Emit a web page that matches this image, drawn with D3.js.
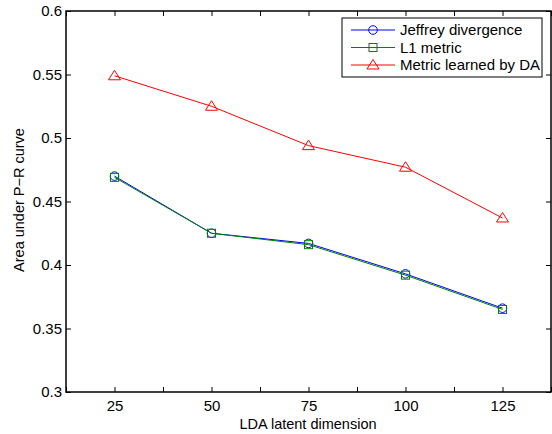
<!DOCTYPE html>
<html>
<head>
<meta charset="utf-8">
<script src="https://cdn.jsdelivr.net/npm/d3@7"></script>
<style>
  body { margin: 0; background: #fff; }
  text { font-family: "Liberation Sans", Arial, sans-serif; }
</style>
</head>
<body>
<svg id="chart" width="552" height="434"></svg>
<script>
// data
const dims = [25, 50, 75, 100, 125];
const jeffrey = [0.470, 0.425, 0.417, 0.393, 0.366];
const l1 = [0.469, 0.425, 0.416, 0.392, 0.365];
const learned = [0.549, 0.525, 0.494, 0.477, 0.437];
const xTicks = [12.5, 25, 37.5, 50, 62.5, 75, 87.5, 100, 112.5, 125, 137.5];
const yTicks = [0.3, 0.35, 0.4, 0.45, 0.5, 0.55, 0.6];

const series = [
  {name: "Jeffrey divergence", values: jeffrey, color: "#0000ff", marker: "circle"},
  {name: "L1 metric", values: l1, color: "#008000", marker: "square"},
  {name: "Metric learned by DA", values: learned, color: "#ff0000", marker: "triangle"}
];

const svg = d3.select("#chart");
const plotL = 66, plotR = 551, plotT = 11, plotB = 392;

const x = d3.scaleLinear().domain([12.5, 137.5]).range([plotL, plotR]);
const y = d3.scaleLinear().domain([0.3, 0.6]).range([plotB, plotT]);

const fmt = d => (d === 0.3 || d === 0.4 || d === 0.5 || d === 0.6) ? d3.format(".1f")(d) : d3.format(".2f")(d);
const xFmt = d => dims.includes(d) ? d : "";

// axes: bottom/left with labels, top/right ticks only
const tickLen = 5;
const gx = svg.append("g").attr("transform", `translate(0,${plotB})`)
  .call(d3.axisBottom(x).tickValues(xTicks).tickFormat(xFmt).tickSizeInner(-tickLen).tickSizeOuter(0).tickPadding(8));
const gxt = svg.append("g").attr("transform", `translate(0,${plotT})`)
  .call(d3.axisTop(x).tickValues(xTicks).tickFormat("").tickSizeInner(-tickLen).tickSizeOuter(0));
const gy = svg.append("g").attr("transform", `translate(${plotL},0)`)
  .call(d3.axisLeft(y).tickValues(yTicks).tickFormat(fmt).tickSizeInner(-tickLen).tickSizeOuter(0).tickPadding(4));
const gyr = svg.append("g").attr("transform", `translate(${plotR},0)`)
  .call(d3.axisRight(y).tickValues(yTicks).tickFormat("").tickSizeInner(-tickLen).tickSizeOuter(0));

[gx, gxt, gy, gyr].forEach(g => {
  g.select(".domain").remove();
  g.selectAll("line").attr("stroke", "#000").attr("stroke-width", 1);
  g.selectAll("text").attr("font-size", 15).attr("fill", "#000")
    .attr("font-family", "Liberation Sans, Arial, sans-serif");
});

svg.append("rect")
  .attr("x", plotL).attr("y", plotT)
  .attr("width", plotR - plotL).attr("height", plotB - plotT)
  .attr("fill", "none").attr("stroke", "#000").attr("stroke-width", 1.5);

function drawMarker(g, type, cx, cy, color) {
  if (type === "circle") {
    g.append("circle").attr("cx", cx).attr("cy", cy).attr("r", 4.3)
      .attr("fill", "none").attr("stroke", color);
  } else if (type === "square") {
    g.append("rect").attr("x", cx - 4).attr("y", cy - 4).attr("width", 8).attr("height", 8)
      .attr("fill", "none").attr("stroke", color);
  } else {
    g.append("path").attr("d", `M${cx},${cy - 5.5}L${cx + 6},${cy + 4}L${cx - 6},${cy + 4}Z`)
      .attr("fill", "none").attr("stroke", color);
  }
}

const line = d3.line().x((d, i) => x(dims[i])).y(d => y(d));

series.forEach(s => {
  const g = svg.append("g");
  g.append("path").attr("d", line(s.values))
    .attr("fill", "none").attr("stroke", s.color).attr("stroke-width", 1);
  s.values.forEach((v, i) => drawMarker(g, s.marker, x(dims[i]), y(v), s.color));
});

// legend
const lg = svg.append("g");
lg.append("rect").attr("x", 342).attr("y", 18).attr("width", 200).attr("height", 59)
  .attr("fill", "#fff").attr("stroke", "#000").attr("stroke-width", 1);
series.forEach((s, i) => {
  const ly = 30 + i * 17.5;
  lg.append("line").attr("x1", 351).attr("x2", 395).attr("y1", ly).attr("y2", ly)
    .attr("stroke", s.color);
  drawMarker(lg, s.marker, 373, ly, s.color);
  lg.append("text").attr("x", 400).attr("y", ly + 5).attr("font-size", 15)
    .text(s.name);
});

// axis titles
svg.append("text").attr("x", 308).attr("y", 429)
  .attr("text-anchor", "middle").attr("font-size", 14.5).text("LDA latent dimension");
svg.append("text").attr("transform", `translate(24,200) rotate(-90)`)
  .attr("text-anchor", "middle").attr("font-size", 14.5).text("Area under P\u2212R curve");
</script>
</body>
</html>
